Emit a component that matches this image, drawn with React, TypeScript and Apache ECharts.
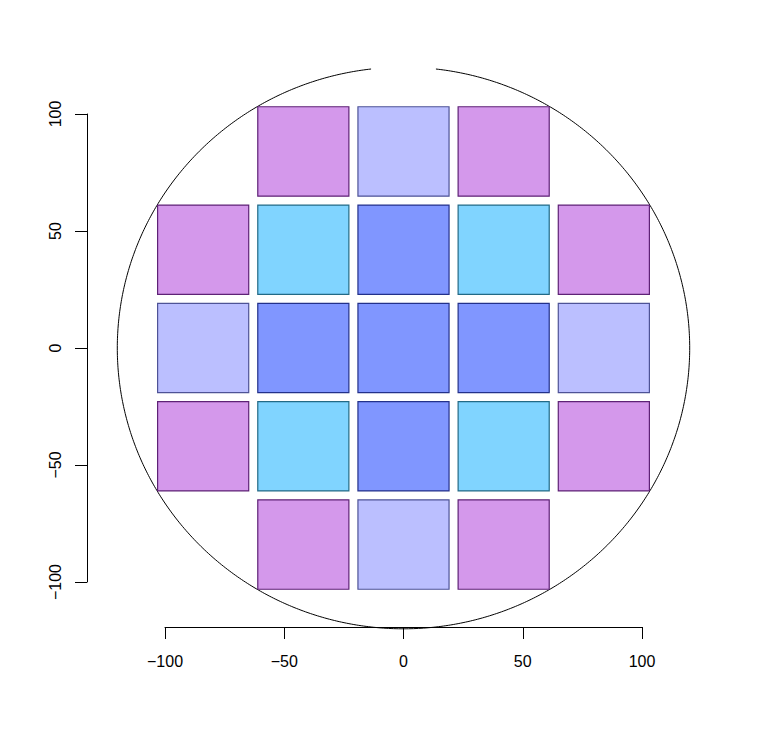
import React, { useEffect, useRef } from "react";
import * as echarts from "echarts";

// Die centres (x, y) and zone of each die
const dieX = [-42, 0, 42, -84, -42, 0, 42, 84, -84, -42, 0, 42, 84, -84, -42, 0, 42, 84, -42, 0, 42];
const dieY = [84, 84, 84, 42, 42, 42, 42, 42, 0, 0, 0, 0, 0, -42, -42, -42, -42, -42, -84, -84, -84];
const dieZone = [4, 3, 4, 4, 2, 1, 2, 4, 3, 1, 1, 1, 3, 4, 2, 1, 2, 4, 4, 3, 4];
const dieSize = 38.2;

// Wafer outline
const waferRadius = 120;
const notchHalfWidth = 13.6;

// Axis ticks
const xTicks = [-100, -50, 0, 50, 100];
const yTicks = [-100, -50, 0, 50, 100];

const zoneFill: Record<number, string> = {
  1: "#8096FF",
  2: "#80D4FF",
  3: "#BBBFFF",
  4: "#D498EB",
};
const zoneStroke: Record<number, string> = {
  1: "#23318A",
  2: "#236A86",
  3: "#4E5396",
  4: "#5E2276",
};

const fmt = (v: number) => (v < 0 ? "\u2212" + Math.abs(v) : String(v));

export default function App() {
  const ref = useRef<HTMLDivElement>(null);
  useEffect(() => {
    if (!ref.current) return;
    const chart = echarts.init(ref.current, undefined, { renderer: "svg" });
    const dies = dieX.map((x, i) => [x, dieY[i], dieZone[i]]);
    const font = "'Liberation Sans', Arial, Helvetica, sans-serif";
    chart.setOption({
      animation: false,
      backgroundColor: "#ffffff",
      grid: { left: 165, top: 114, width: 477, height: 468 },
      xAxis: {
        type: "value",
        min: xTicks[0],
        max: xTicks[xTicks.length - 1],
        interval: 50,
        offset: 45,
        axisLine: { show: true, onZero: false, lineStyle: { color: "#000", width: 1 } },
        axisTick: { show: true, length: 12, lineStyle: { color: "#000", width: 1 } },
        axisLabel: { formatter: fmt, fontSize: 16, color: "#000", margin: 26, fontFamily: font },
        splitLine: { show: false },
      },
      yAxis: {
        type: "value",
        min: yTicks[0],
        max: yTicks[yTicks.length - 1],
        interval: 50,
        offset: 78,
        axisLine: { show: true, onZero: false, lineStyle: { color: "#000", width: 1 } },
        axisTick: { show: true, length: 12, lineStyle: { color: "#000", width: 1 } },
        axisLabel: { formatter: fmt, fontSize: 16, color: "#000", margin: 24, rotate: 90, fontFamily: font },
        splitLine: { show: false },
      },
      series: [
        {
          type: "custom",
          clip: false,
          data: [[0, 0]],
          renderItem: (params: any, api: any) => {
            const cx = api.value(0);
            const cy = api.value(1);
            const notchDeg = (Math.asin(notchHalfWidth / waferRadius) * 180) / Math.PI;
            const pts: number[][] = [];
            for (let a = 90 + notchDeg; a <= 450 - notchDeg + 1e-9; a += 0.5) {
              const r = (a * Math.PI) / 180;
              pts.push(api.coord([cx + waferRadius * Math.cos(r), cy + waferRadius * Math.sin(r)]));
            }
            const end = ((450 - notchDeg) * Math.PI) / 180;
            pts.push(api.coord([cx + waferRadius * Math.cos(end), cy + waferRadius * Math.sin(end)]));
            return {
              type: "polyline",
              shape: { points: pts },
              style: { stroke: "#000", lineWidth: 1, fill: null },
            };
          },
        },
        {
          type: "custom",
          clip: false,
          data: dies,
          renderItem: (params: any, api: any) => {
            const x = api.value(0);
            const y = api.value(1);
            const z = api.value(2);
            const h = dieSize / 2;
            const p0 = api.coord([x - h, y + h]);
            const p1 = api.coord([x + h, y - h]);
            return {
              type: "rect",
              shape: { x: p0[0], y: p0[1], width: p1[0] - p0[0], height: p1[1] - p0[1] },
              style: { fill: zoneFill[z], stroke: zoneStroke[z], lineWidth: 1.2 },
            };
          },
        },
      ],
    });
    return () => chart.dispose();
  }, []);
  return (
    <div
      ref={ref}
      style={{ position: "absolute", left: 0, top: 0, width: 764, height: 735 }}
    />
  );
}
